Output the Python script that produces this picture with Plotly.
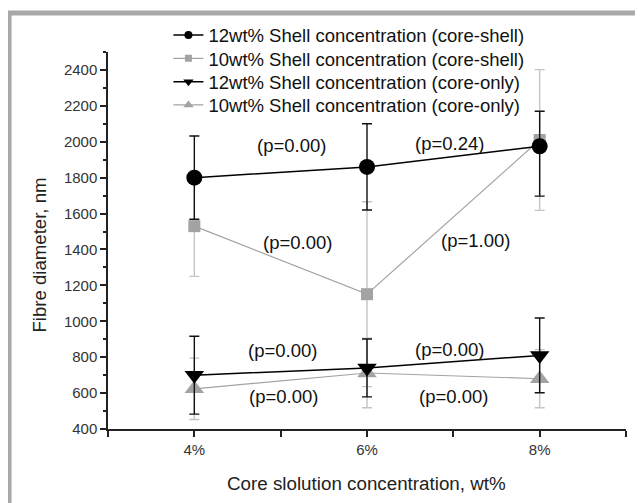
import plotly.graph_objects as go

# ---------------- data ----------------
x_vals = [4, 6, 8]
x_tick_vals = [4, 6, 8]
x_tick_text = ["4%", "6%", "8%"]
y_tick_vals = [400, 600, 800, 1000, 1200, 1400, 1600, 1800, 2000, 2200, 2400]

names = [
    "12wt% Shell concentration (core-shell)",
    "10wt% Shell concentration (core-shell)",
    "12wt% Shell concentration (core-only)",
    "10wt% Shell concentration (core-only)",
]

cs12_mean = [1800, 1860, 1975]
cs12_err_plus = [232, 240, 195]
cs12_err_minus = [232, 240, 278]

cs10_mean = [1530, 1151, 2010]
cs10_err = [280, 515, 392]

co12_mean = [700, 740, 810]
co12_err = [217, 161, 208]

co10_mean = [624, 712, 680]
co10_err = [171, 194, 162]

p_labels = ["(p=0.00)", "(p=0.24)", "(p=0.00)", "(p=1.00)",
            "(p=0.00)", "(p=0.00)", "(p=0.00)", "(p=0.00)"]
p_x = [5.13, 6.96, 5.19, 7.26, 5.02, 6.96, 5.03, 7.00]
p_y = [1980, 1993, 1438, 1449, 839, 844, 579, 579]

# ---------------- styles ----------------
BLACK = "#000000"
GRAY = "#a3a3a3"
GRAY_ERR = "#c4c4c4"
FONT = "Liberation Sans, Arial, Helvetica, sans-serif"

# page body adds an 8px offset; figure coordinates = screen - 8
W, H = 635, 495
L, R, T, B = 99.5, 17, 43.5, 73.5
pw, ph = W - L - R, H - T - B

def px2paper(px, py):
    return (px - L) / pw, (H - B - py) / ph

fig = go.Figure()

def add_series(y, err_plus, err_minus, color, ecolor, symbol, size, lw, name):
    fig.add_trace(go.Scatter(
        x=x_vals, y=y, mode="lines+markers", name=name, showlegend=False,
        line=dict(color=color, width=lw),
        marker=dict(symbol=symbol, size=size, color=color),
        error_y=dict(type="data", array=err_plus, arrayminus=err_minus,
                     symmetric=False, color=ecolor, thickness=1.4, width=5),
    ))

# draw order: gray below black
add_series(cs10_mean, cs10_err, cs10_err, GRAY, GRAY_ERR, "square", 12, 1.2, names[1])
add_series(co10_mean, co10_err, co10_err, GRAY, GRAY_ERR, "triangle-up", 17, 1.2, names[3])
add_series(cs12_mean, cs12_err_plus, cs12_err_minus, BLACK, "#111111", "circle", 16, 1.5, names[0])
add_series(co12_mean, co12_err, co12_err, BLACK, "#111111", "triangle-down", 17, 1.5, names[2])

# legend entries, one legend per row so rows sit where the reference has them
legend_styles = [
    (BLACK, "circle", 1.5, 8),
    (GRAY, "square", 1.2, 7),
    (BLACK, "triangle-down", 1.5, 9),
    (GRAY, "triangle-up", 1.2, 9),
]
legend_ids = ["legend", "legend2", "legend3", "legend4"]
row_y = [27, 50.3, 73.7, 97]
legend_layout = {}
for nm, (c, s, lw, ms), lid, ry in zip(names, legend_styles, legend_ids, row_y):
    fig.add_trace(go.Scatter(
        x=[None], y=[None], mode="lines+markers", name=nm, legend=lid,
        line=dict(color=c, width=lw), marker=dict(symbol=s, size=ms, color=c),
    ))
    lx, ly = px2paper(160, ry)
    legend_layout[lid] = dict(x=lx, y=ly, xanchor="left", yanchor="middle",
                              bgcolor="rgba(0,0,0,0)",
                              font=dict(family=FONT, size=18.5, color="#111111"))

# p-value annotations
for t, xx, yy in zip(p_labels, p_x, p_y):
    fig.add_annotation(x=xx, y=yy, xref="x", yref="y", text=t, showarrow=False,
                       xanchor="center", yanchor="middle",
                       font=dict(family=FONT, size=18.5, color="#111111"))

# axis titles
ax, ay = px2paper(358.5, 475.7)
fig.add_annotation(x=ax, y=ay, xref="paper", yref="paper",
                   xanchor="center", yanchor="middle",
                   text="Core slolution concentration, wt%", showarrow=False,
                   font=dict(family=FONT, size=18.8, color="#222222"))
ax, ay = px2paper(31, 247)
fig.add_annotation(x=ax, y=ay, xref="paper", yref="paper", textangle=-90,
                   xanchor="center", yanchor="middle",
                   text="Fibre diameter, nm", showarrow=False,
                   font=dict(family=FONT, size=18.6, color="#222222"))

# outer gray frame
fx0, fy0 = px2paper(0.5, 4.5)
fx1, fy1 = px2paper(720, 580)
fig.add_shape(type="rect", xref="paper", yref="paper", x0=fx0, y0=fy1, x1=fx1, y1=fy0,
              line=dict(color="#a9a9a9", width=5), layer="below")

fig.update_layout(
    width=W, height=H,
    margin=dict(l=L, r=R, t=T, b=B, autoexpand=False),
    paper_bgcolor="white", plot_bgcolor="white",
    font=dict(family=FONT, color="#333333"),
    showlegend=True,
    **legend_layout,
)
fig.update_xaxes(
    range=[3, 9], tickvals=x_tick_vals, ticktext=x_tick_text,
    showgrid=False, zeroline=False, showline=True, linecolor="#222222", linewidth=1.5,
    ticks="outside", ticklen=6, tickwidth=1.5, tickcolor="#222222",
    tickfont=dict(family=FONT, size=15, color="#333333"),
    minor=dict(dtick=1, tick0=3, ticks="outside", ticklen=6, tickwidth=1.5, tickcolor="#222222"),
)
fig.update_yaxes(
    range=[400, 2500], tickvals=y_tick_vals,
    showgrid=False, zeroline=False, showline=True, linecolor="#222222", linewidth=1.5,
    ticks="outside", ticklen=6, tickwidth=1.5, tickcolor="#222222",
    tickfont=dict(family=FONT, size=15, color="#333333"),
    minor=dict(dtick=100, tick0=400, ticks="outside", ticklen=3, tickwidth=1.5, tickcolor="#222222"),
)

fig.write_html("out.html")
